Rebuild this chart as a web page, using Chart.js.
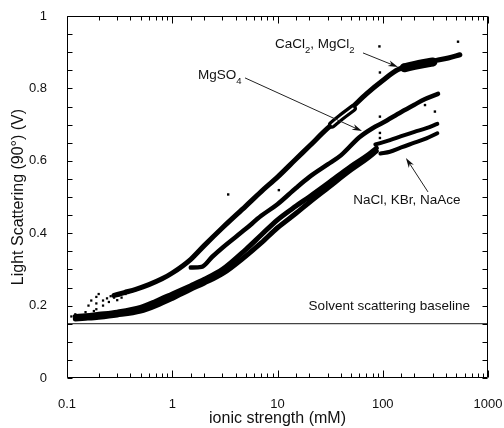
<!DOCTYPE html>
<html lang="en">
<head>
<meta charset="UTF-8">
<title>Light scattering vs ionic strength</title>
<script src="https://cdn.jsdelivr.net/npm/chart.js"></script>
<style>
  html, body { margin: 0; padding: 0; background: #fff; }
  .wrap { width: 504px; height: 428px; position: relative; }
</style>
</head>
<body>
<div class="wrap"><canvas id="scatterChart"></canvas></div>
<script>
// ionic strength (mM) / scattering signal (V) for each salt group
const divalentX = [0.28, 0.35, 0.45, 0.6, 0.8, 1, 1.5, 2, 3, 5, 7, 10, 15, 20, 30, 40, 50, 70, 100, 140, 200, 250, 330, 420, 540];
const divalentY = [0.228, 0.236, 0.245, 0.258, 0.274, 0.29, 0.328, 0.365, 0.415, 0.475, 0.515, 0.555, 0.605, 0.64, 0.69, 0.72, 0.745, 0.785, 0.822, 0.852, 0.865, 0.872, 0.878, 0.884, 0.893];
// wide stretch of the CaCl2/MgCl2 band at high salt
const divalentWideX = [160, 220, 300];
const divalentWideY = [0.857, 0.866, 0.873];
// short split in the CaCl2/MgCl2 band
const divalentLoopX = [33, 40, 52];
const divalentLoopY = [0.70, 0.72, 0.745];

const mgso4X = [1.5, 1.9, 2.4, 3, 5, 7, 10, 15, 20, 30, 40, 60, 80, 100, 150, 200, 250, 335];
const mgso4Y = [0.305, 0.307, 0.335, 0.36, 0.412, 0.448, 0.48, 0.525, 0.555, 0.59, 0.615, 0.665, 0.69, 0.705, 0.735, 0.755, 0.77, 0.785];

const monoX = [0.12, 0.15, 0.2, 0.3, 0.5, 0.7, 1, 1.5, 2, 3, 5, 7, 10, 15, 20, 30, 50, 70, 87];
const monoHiY = [0.17, 0.172, 0.176, 0.182, 0.195, 0.212, 0.232, 0.255, 0.272, 0.3, 0.355, 0.395, 0.437, 0.475, 0.5, 0.537, 0.585, 0.613, 0.635];
const monoLoY = [0.163, 0.165, 0.168, 0.174, 0.185, 0.2, 0.22, 0.245, 0.262, 0.288, 0.337, 0.373, 0.415, 0.455, 0.485, 0.525, 0.575, 0.605, 0.627];
const monoUpperX = [85, 117, 150, 200, 260, 330];
const monoUpperY = [0.645, 0.657, 0.668, 0.68, 0.69, 0.702];
const monoLowerX = [95, 117, 150, 200, 260, 330];
const monoLowerY = [0.62, 0.625, 0.637, 0.65, 0.662, 0.676];

// noisy low-salt readings
const divalentNoiseX = [0.16, 0.17, 0.19, 0.19, 0.2, 0.22, 0.22, 0.24, 0.25, 0.26, 0.28, 0.3, 0.31, 0.33, 0.36, 0.38, 0.41];
const divalentNoiseY = [0.2, 0.214, 0.224, 0.206, 0.232, 0.214, 0.2, 0.22, 0.21, 0.226, 0.222, 0.215, 0.228, 0.222, 0.232, 0.235, 0.238];
const monoNoiseX = [0.11, 0.12, 0.14, 0.15, 0.16, 0.18, 0.19, 0.2, 0.21];
const monoNoiseY = [0.17, 0.176, 0.169, 0.182, 0.172, 0.185, 0.19, 0.178, 0.172];
// stray points
const strayX = [3.4, 10.3, 93, 94, 94, 94, 94, 252, 313, 519];
const strayY = [0.507, 0.519, 0.916, 0.844, 0.722, 0.677, 0.663, 0.754, 0.736, 0.929];

const baselineX = [0.1, 1000];
const baselineY = [0.15, 0.15];

const xTickLabels = ['0.1', '1', '10', '100', '1000'];
const yTickLabels = ['0', '0.2', '0.4', '0.6', '0.8', '1'];

const FONT = '"Liberation Sans", Arial, sans-serif';
const INK = '#111';

function pts(xs, ys) {
    return xs.map((x, i) => ({ x: x, y: ys[i] }));
}

function curve(xs, ys, width, color, order) {
    return {
        data: pts(xs, ys),
        showLine: true,
        borderColor: color || '#000',
        borderWidth: width,
        pointRadius: 0,
        cubicInterpolationMode: 'monotone',
        borderCapStyle: 'round',
        borderJoinStyle: 'round',
        order: order
    };
}

function dots(xs, ys, r, order) {
    return {
        data: pts(xs, ys),
        showLine: false,
        pointStyle: 'rect',
        pointRadius: r,
        pointBorderWidth: 0,
        pointBackgroundColor: '#000',
        order: order
    };
}

// text notes and pointer arrows, anchored in data units
const notes = [
    { parts: [['CaCl'], ['2', true], [', MgCl'], ['2', true]], x: 9.47, y: 0.911, align: 'left' },
    { parts: [['MgSO'], ['4', true]], x: 1.76, y: 0.825, align: 'left' },
    { parts: [['NaCl, KBr, NaAce']], x: 52.5, y: 0.48, align: 'left' },
    { parts: [['Solvent scattering baseline']], x: 674, y: 0.188, align: 'right' }
];
const arrows = [
    { from: [64.9, 0.898], to: [139.6, 0.859] },
    { from: [4.91, 0.829], to: [63.5, 0.682] },
    { from: [269, 0.514], to: [166, 0.608] }
];

function isDecade(v) {
    const l = Math.log10(v);
    return Math.abs(l - Math.round(l)) < 1e-6;
}

function line(ctx, x0, y0, x1, y1) {
    ctx.beginPath();
    ctx.moveTo(x0, y0);
    ctx.lineTo(x1, y1);
    ctx.stroke();
}

const decor = {
    id: 'decor',
    afterDraw(chart) {
        const ctx = chart.ctx;
        const xs = chart.scales.x, ys = chart.scales.y;
        const L = Math.round(xs.getPixelForValue(0.1)) + 0.5;
        const R = Math.round(xs.getPixelForValue(1000)) - 0.5;
        const T = Math.round(ys.getPixelForValue(1)) + 0.5;
        const B = Math.round(ys.getPixelForValue(0)) - 0.5;
        ctx.save();
        ctx.globalAlpha = 1;
        ctx.setLineDash([]);
        ctx.strokeStyle = '#000';
        ctx.lineWidth = 1;

        // frame
        line(ctx, L, T, R, T);
        line(ctx, R, T, R, B);
        line(ctx, R, B, L, B);
        line(ctx, L, B, L, T);

        // inward tick marks: every 0.05 on y, 1..9 per decade on x
        for (let k = 0; k <= 20; k++) {
            const py = Math.round(ys.getPixelForValue(k * 0.05)) + 0.5;
            line(ctx, L, py, L + 5, py);
            line(ctx, R, py, R - 5, py);
        }
        xs.ticks.forEach(t => {
            const px = Math.round(xs.getPixelForValue(t.value)) + 0.5;
            const len = isDecade(t.value) ? 7 : 4;
            line(ctx, px, B, px, B - len);
            line(ctx, px, T, px, T + len);
        });

        // arrows
        arrows.forEach(ar => {
            const x0 = xs.getPixelForValue(ar.from[0]), y0 = ys.getPixelForValue(ar.from[1]);
            const x1 = xs.getPixelForValue(ar.to[0]), y1 = ys.getPixelForValue(ar.to[1]);
            const c = Math.cos(Math.atan2(y1 - y0, x1 - x0)), s = Math.sin(Math.atan2(y1 - y0, x1 - x0));
            ctx.strokeStyle = '#222';
            line(ctx, x0, y0, x1 - 6 * c, y1 - 6 * s);
            ctx.fillStyle = '#111';
            ctx.beginPath();
            ctx.moveTo(x1, y1);
            ctx.lineTo(x1 - 10 * c + 3 * s, y1 - 10 * s - 3 * c);
            ctx.lineTo(x1 - 7 * c, y1 - 7 * s);
            ctx.lineTo(x1 - 10 * c - 3 * s, y1 - 10 * s + 3 * c);
            ctx.closePath();
            ctx.fill();
        });

        // notes with subscripts
        ctx.fillStyle = INK;
        ctx.textBaseline = 'alphabetic';
        ctx.textAlign = 'left';
        notes.forEach(n => {
            const main = '13.5px ' + FONT, sub = '9.5px ' + FONT;
            let width = 0;
            n.parts.forEach(p => { ctx.font = p[1] ? sub : main; width += ctx.measureText(p[0]).width; });
            let px = xs.getPixelForValue(n.x);
            const py = ys.getPixelForValue(n.y);
            if (n.align === 'right') px -= width;
            n.parts.forEach(p => {
                ctx.font = p[1] ? sub : main;
                ctx.fillText(p[0], px, p[1] ? py + 5 : py);
                px += ctx.measureText(p[0]).width;
            });
        });
        ctx.restore();
    }
};

new Chart(document.getElementById('scatterChart'), {
    type: 'scatter',
    data: {
        datasets: [
            curve(divalentLoopX, divalentLoopY, 1.6, '#fff', 0),
            curve(divalentLoopX, divalentLoopY, 8, '#000', 1),
            curve(divalentWideX, divalentWideY, 9, '#000', 1),
            curve(divalentX, divalentY, 5, '#000', 2),
            curve(mgso4X, mgso4Y, 4.5, '#000', 2),
            curve(monoX, monoHiY, 5, '#000', 2),
            curve(monoX, monoLoY, 5, '#000', 2),
            curve(monoUpperX, monoUpperY, 4, '#000', 2),
            curve(monoLowerX, monoLowerY, 4, '#000', 2),
            dots(divalentNoiseX, divalentNoiseY, 1.6, 3),
            dots(monoNoiseX, monoNoiseY, 1.6, 3),
            dots(strayX, strayY, 1.7, 3),
            curve(baselineX, baselineY, 1.2, '#444', 9)
        ]
    },
    options: {
        responsive: true,
        maintainAspectRatio: false,
        animation: false,
        devicePixelRatio: 1,
        layout: { padding: { top: 16, right: 16, left: 0, bottom: 0 } },
        plugins: {
            legend: { display: false },
            tooltip: { enabled: false }
        },
        scales: {
            x: {
                type: 'logarithmic',
                min: 0.1,
                max: 1000,
                grid: { display: false },
                border: { display: false },
                ticks: {
                    autoSkip: false,
                    maxRotation: 0,
                    padding: 11,
                    color: INK,
                    font: { family: FONT, size: 13 },
                    callback: v => isDecade(v) ? xTickLabels[Math.round(Math.log10(v)) + 1] : ''
                },
                title: {
                    display: true,
                    text: 'ionic strength (mM)',
                    color: INK,
                    font: { family: FONT, size: 16 },
                    padding: { top: 0, bottom: 0 }
                },
                afterFit: s => { s.height = 50; s.paddingLeft = 0; s.paddingRight = 0; }
            },
            y: {
                min: 0,
                max: 1,
                grid: { display: false },
                border: { display: false },
                ticks: {
                    stepSize: 0.2,
                    padding: 12,
                    color: INK,
                    font: { family: FONT, size: 13 },
                    callback: (v, i) => yTickLabels[i]
                },
                title: {
                    display: true,
                    text: 'Light Scattering (90°) (V)',
                    color: INK,
                    font: { family: FONT, size: 16 },
                    padding: { top: 9, bottom: 0 }
                },
                afterFit: s => { s.width = 67; s.paddingTop = 0; s.paddingBottom = 0; }
            }
        }
    },
    plugins: [decor]
});
</script>
</body>
</html>
